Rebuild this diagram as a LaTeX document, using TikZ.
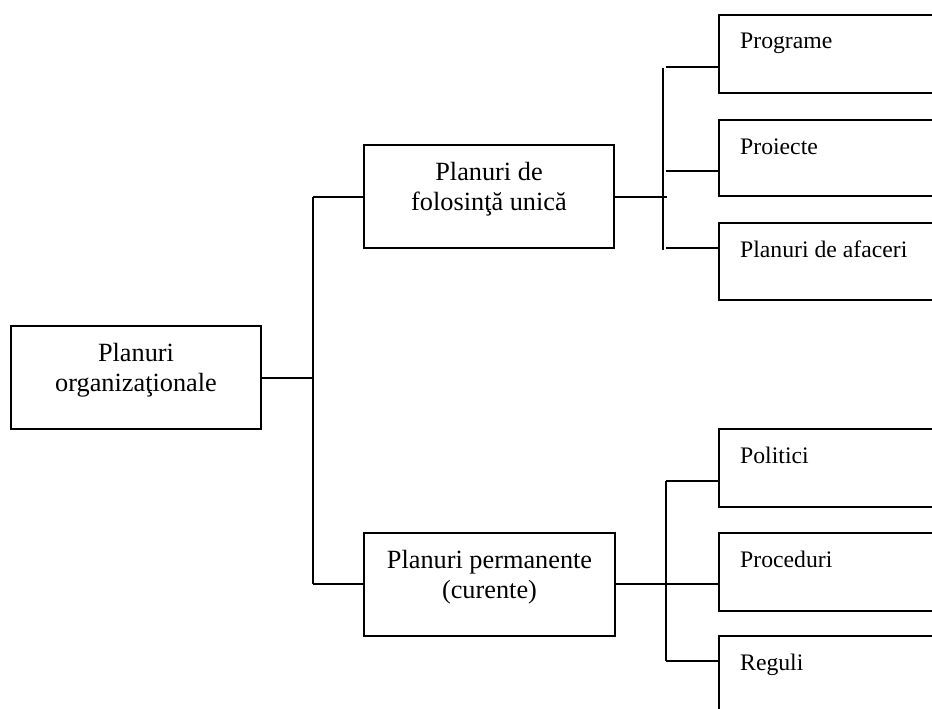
\documentclass[tikz,border=0pt]{standalone}
\usepackage{fontspec}
\setmainfont{Liberation Serif}
\begin{document}
\begin{tikzpicture}[x=1pt,y=-1pt,
  box/.style={draw, line width=1.8pt, inner sep=0pt, outer sep=0pt, anchor=north west},
  conn/.style={line width=1.8pt},
  bigtxt/.style={font=\fontsize{26.3}{30}\selectfont, anchor=base, inner sep=0pt},
  smalltxt/.style={font=\fontsize{23.7}{28}\selectfont, anchor=base west, inner sep=0pt}]
\useasboundingbox (0,0) rectangle (932,709);
% main boxes
\node[box, minimum width=250pt, minimum height=103pt] (root) at (11,326) {};
\node[bigtxt] (rootA) at (136,361.5) {Planuri};
\node[bigtxt] (rootB) at (136,391.5) {organizaţionale};
\node[box, minimum width=250pt, minimum height=103pt] (unic) at (364,145) {};
\node[bigtxt] (unicA) at (489,180.5) {Planuri de};
\node[bigtxt] (unicB) at (489,210.5) {folosinţă unică};
\node[box, minimum width=251pt, minimum height=103pt] (perm) at (364,533) {};
\node[bigtxt] (permA) at (489.5,568) {Planuri permanente};
\node[bigtxt] (permB) at (489.5,598) {(curente)};
% right boxes (cut at the right edge)
\node[box, minimum width=240pt, minimum height=78pt] (prog) at (719,15) {};
\node[smalltxt] at (740,49) {Programe};
\node[box, minimum width=240pt, minimum height=76pt] (proi) at (719,120) {};
\node[smalltxt] at (740,154) {Proiecte};
\node[box, minimum width=240pt, minimum height=77pt] (afac) at (719,223) {};
\node[smalltxt] at (740,257) {Planuri de afaceri};
\node[box, minimum width=240pt, minimum height=78pt] (poli) at (719,429) {};
\node[smalltxt] at (740,463) {Politici};
\node[box, minimum width=240pt, minimum height=78pt] (proc) at (719,533) {};
\node[smalltxt] at (740,567) {Proceduri};
\node[box, minimum width=240pt, minimum height=100pt] (regu) at (719,636) {};
\node[smalltxt] at (740,670) {Reguli};
% junction coordinates
\coordinate (j1) at (313,378);
\coordinate (j1t) at (313,197);
\coordinate (j1b) at (313,584);
\coordinate (j2) at (667,197);
\coordinate (j2t) at (663,68);
\coordinate (j2b) at (663,250);
\coordinate (j3) at (666,584);
\coordinate (j3t) at (666,481);
\coordinate (j3b) at (666,661);
% connectors level 1
\draw[conn] (root.east |- j1) -- (j1);
\draw[conn] (j1t) -- (j1b);
\draw[conn] (j1t) -- (unic.west |- j1t);
\draw[conn] (j1b) -- (perm.west |- j1b);
% top branch
\draw[conn] (unic.east |- j2) -- (j2);
\draw[conn] (j2t) -- (j2b);
\draw[conn] (666,67) -- (prog.west |- 0,67);
\draw[conn] (666,171) -- (proi.west |- 0,171);
\draw[conn] (666,248) -- (afac.west |- 0,248);
% bottom branch
\draw[conn] (perm.east |- j3) -- (j3);
\draw[conn] (j3t) -- (j3b);
\draw[conn] (j3t) -- (poli.west |- j3t);
\draw[conn] (j3) -- (proc.west |- j3);
\draw[conn] (j3b) -- (regu.west |- j3b);
\end{tikzpicture}
\end{document}
